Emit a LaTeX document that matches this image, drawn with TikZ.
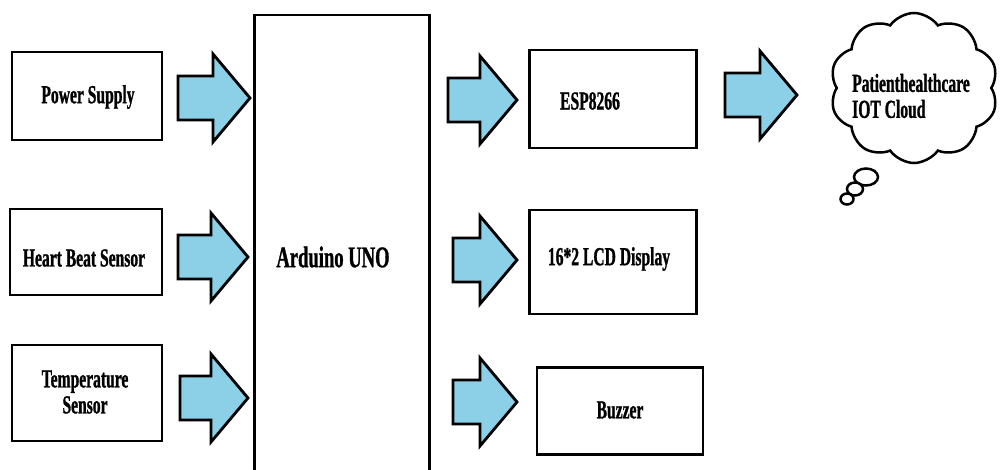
\documentclass[tikz,border=0pt]{standalone}
\usepackage{fontspec}
\newfontfamily\cond{Liberation Serif}[FakeStretch=0.6, BoldFeatures={FakeBold=1}]
\newfontfamily\condA{Liberation Serif}[FakeStretch=0.62, BoldFeatures={FakeBold=1}]
\usetikzlibrary{shapes.symbols,shapes.geometric}
\definecolor{arrowblue}{RGB}{140,208,232}
\newcommand{\blockarrow}[4]{% name, x, y, length
  \coordinate (#1) at (#2,#3);
  \draw[barrowstyle, shift={(#1)}] (0,-22) -- ({#4-37},-22) -- ({#4-37},-44) -- (#4,0)
     -- ({#4-37},44) -- ({#4-37},22) -- (0,22) -- cycle;}
\begin{document}
\begin{tikzpicture}[x=1pt,y=-1pt,
  box/.style={draw, line width=2.8pt, rectangle, inner sep=0pt},
  lbl/.style={font=\cond\bfseries\fontsize{26}{26}\selectfont, inner sep=0pt, align=center},
  barrowstyle/.style={draw, line width=2.8pt, fill=arrowblue, line join=miter},
  bubble/.style={ellipse, draw, line width=2.5pt, fill=white, inner sep=0pt}]
\useasboundingbox (0,0) rectangle (1000,470);
% left boxes
\node[box, minimum width=150pt, minimum height=88pt] (ps) at (87,96) {};
\node[lbl] (pst) at (88,97) {Power Supply};
\node[box, minimum width=152pt, minimum height=86pt] (hb) at (86,252) {};
\node[lbl] (hbt) at (84,258) {Heart Beat Sensor};
\node[box, minimum width=150pt, minimum height=96pt] (ts) at (87,393) {};
\node[lbl] (tst) at (85,392) {Temperature\\Sensor};
% arduino
\node[box, minimum width=175pt, minimum height=470pt] (uno) at (342,250) {};
\node[lbl, font=\condA\bfseries\fontsize{30}{30}\selectfont] (unot) at (333,257) {Arduino UNO};
% right boxes
\node[box, minimum width=167pt, minimum height=98pt] (esp) at (613,99) {};
\node[lbl] (espt) at (590,101) {ESP8266};
\node[box, minimum width=167pt, minimum height=104pt] (lcd) at (613,262) {};
\node[lbl] (lcdt) at (609,259) {16*2 LCD Display};
\node[box, minimum width=166pt, minimum height=87pt] (buz) at (620,411) {};
\node[lbl] (buzt) at (620,410) {Buzzer};
% cloud
\node[bubble, minimum width=24pt, minimum height=17pt] (b1) at (866,177) {};
\node[bubble, minimum width=16pt, minimum height=13pt] (b2) at (855,189) {};
\node[bubble, minimum width=13pt, minimum height=11pt] (b3) at (847,199) {};
\node[cloud, cloud puffs=10, cloud puff arc=110, aspect=1.15, draw, line width=2.5pt, fill=white,
      minimum width=168pt, minimum height=150pt, inner sep=0pt] (cloud) at (914,88) {};
\node[lbl, align=left, anchor=west] (cloudt) at (852,96) {Patienthealthcare\\IOT Cloud};
% block arrows
\blockarrow{a1}{178}{98}{72}
\blockarrow{a2}{178}{257}{70}
\blockarrow{a3}{180}{398}{68}
\blockarrow{a4}{448}{100}{69}
\blockarrow{a5}{453}{260}{64}
\blockarrow{a6}{453}{402}{64}
\blockarrow{a7}{725}{95}{72}
\end{tikzpicture}
\end{document}
